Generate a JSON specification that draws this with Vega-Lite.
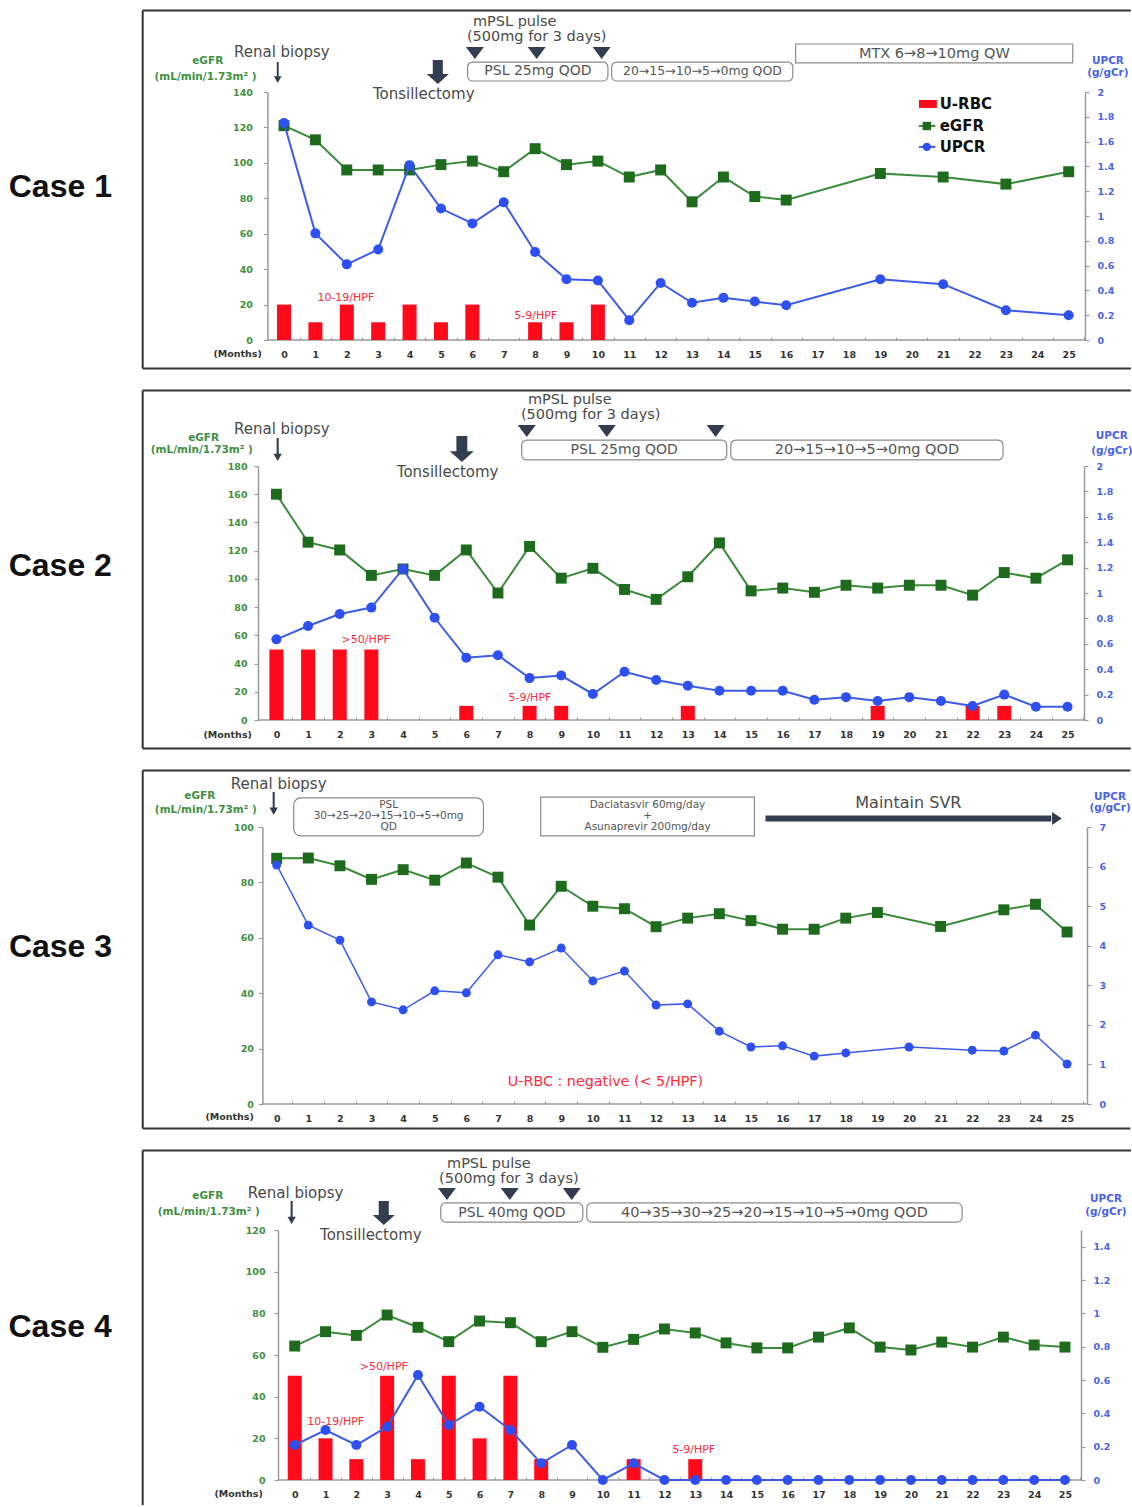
{
"$schema":"https://vega.github.io/schema/vega-lite/v6.json",
"background":"white",
"padding":{"left":8,"top":9,"right":0,"bottom":0},
"spacing":19,
"config":{
 "view":{"stroke":null},
 "axis":{"grid":false,"domainColor":"#9a9a9a","domainWidth":1.5,"tickColor":"#9a9a9a","tickWidth":1.2,"labelFont":"DejaVu Sans","labelFontWeight":"bold","labelFontSize":9.5},
 "style":{
  "ann":{"font":"DejaVu Sans","fontSize":15,"fill":"#4a4a4a","color":"#4a4a4a","align":"center","baseline":"middle"},
  "boxt":{"font":"DejaVu Sans","fontSize":14,"fill":"#555555","color":"#555555","align":"center","baseline":"middle"},
  "boxs":{"font":"DejaVu Sans","fontSize":10.5,"fill":"#555555","color":"#555555","align":"center","baseline":"middle"},
  "axg":{"font":"DejaVu Sans","fontSize":10.5,"fontWeight":"bold","fill":"#3f8f3f","color":"#3f8f3f","align":"center","baseline":"middle"},
  "axb":{"font":"DejaVu Sans","fontSize":10.5,"fontWeight":"bold","fill":"#4a63e8","color":"#4a63e8","align":"center","baseline":"middle"},
  "hpf":{"font":"DejaVu Sans","fontSize":11,"fill":"#ff2a3a","color":"#ff2a3a","align":"center","baseline":"middle"},
  "case":{"font":"Liberation Sans","fontSize":32,"fontWeight":"bold","fill":"#111111","color":"#111111","align":"left","baseline":"middle"},
  "mon":{"font":"DejaVu Sans","fontSize":9.5,"fontWeight":"bold","fill":"#333333","color":"#333333","align":"center","baseline":"middle"},
  "leg":{"font":"DejaVu Sans","fontSize":15,"fontWeight":"bold","fill":"#111111","color":"#111111","align":"left","baseline":"middle"}
 }
},
"vconcat":[
{
 "width":827,"height":248,
 "encoding":{"x":{"field":"m","type":"quantitative","title":null,"scale":{"domain":[-0.829,25.52],"nice":false,"zero":false,"padding":0},"axis":{"values":[0.5,1.5,2.5,3.5,4.5,5.5,6.5,7.5,8.5,9.5,10.5,11.5,12.5,13.5,14.5,15.5,16.5,17.5,18.5,19.5,20.5,21.5,22.5,23.5,24.5,25.5],"labelExpr":"datum.value - 0.5","labelOffset":-15.7,"tickSize":-3,"labelPadding":12,"domain":false,"labelColor":"#333333","labelFlush":false,"labelOverlap":false}}},
 "layer":[
  {
   "encoding":{"y":{"field":"v","type":"quantitative","title":null,"scale":{"domain":[0,140],"nice":false},"axis":{"orient":"left","offset":-9.4,"values":[0,20,40,60,80,100,120,140],"labelColor":"#3f8f3f","tickSize":4,"labelPadding":11}}},
   "layer":[
    {"data":{"values":[{"m":-4.503,"m2":26.98,"v":186,"v2":186},{"m":-4.503,"m2":-4.503,"v":186,"v2":-16.1},{"m":-4.503,"m2":26.98,"v":-16.1,"v2":-16.1}]},"mark":{"type":"rule","color":"#333333","strokeWidth":2},"encoding":{"x2":{"field":"m2"},"y2":{"field":"v2"}}},
    {"data":{"values":[{"m":-0.529,"m2":25.52,"v":0,"v2":0}]},"mark":{"type":"rule","color":"#9a9a9a","strokeWidth":1.5},"encoding":{"x2":{"field":"m2"},"y2":{"field":"v2"}}},
    {"data":{"values":[{"m":0,"v":20},{"m":1,"v":10},{"m":2,"v":20},{"m":3,"v":10},{"m":4,"v":20},{"m":5,"v":10},{"m":6,"v":20},{"m":8,"v":10},{"m":9,"v":10},{"m":10,"v":20}]},"mark":{"type":"bar","color":"#ff0a1a","size":14,"orient":"vertical","opacity":1}},
    {"data":{"values":[{"m":0,"v":121},{"m":1,"v":113},{"m":2,"v":96},{"m":3,"v":96},{"m":4,"v":96},{"m":5,"v":99},{"m":6,"v":101},{"m":7,"v":95},{"m":8,"v":108},{"m":9,"v":99},{"m":10,"v":101},{"m":11,"v":92},{"m":12,"v":96},{"m":13,"v":78},{"m":14,"v":92},{"m":15,"v":81},{"m":16,"v":79},{"m":19,"v":94},{"m":21,"v":92},{"m":23,"v":88},{"m":25,"v":95}]},"mark":{"type":"line","color":"#3a8a3a","strokeWidth":2,"point":{"shape":"square","size":120,"color":"#1e6b1e","filled":true,"opacity":1}}},
    {"data":{"values":[{"m":5.85,"m2":10.32,"v":156.9,"v2":146.2},{"m":10.44,"m2":16.21,"v":156.9,"v2":146.2}]},"mark":{"type":"rect","fill":"white","stroke":"#8a8a8a","strokeWidth":1.2,"cornerRadius":5},"encoding":{"x2":{"field":"m2"},"y2":{"field":"v2"}}},
    {"data":{"values":[{"m":16.3,"m2":25.13,"v":167.1,"v2":156.4}]},"mark":{"type":"rect","fill":"white","stroke":"#8a8a8a","strokeWidth":1.2},"encoding":{"x2":{"field":"m2"},"y2":{"field":"v2"}}},
    {"data":{"values":[{"m":6.08,"v":162},{"m":8.05,"v":162},{"m":10.12,"v":162}]},"mark":{"type":"point","shape":"M-1,-0.67L1,-0.67L0,0.67Z","size":324,"filled":true,"color":"#323e4f","opacity":1}},
    {"data":{"values":[{"m":-0.2,"v":151}]},"mark":{"type":"point","shape":"M-0.09,-1L0.09,-1L0.09,0.36L0.36,0.36L0,1L-0.36,0.36L-0.09,0.36Z","size":441,"filled":true,"color":"#323e4f","opacity":1}},
    {"data":{"values":[{"m":4.9,"v":151.3}]},"mark":{"type":"point","shape":"M-0.42,-1L0.42,-1L0.42,0.17L0.92,0.17L0,1L-0.92,0.17L-0.42,0.17Z","size":576,"filled":true,"color":"#323e4f","opacity":1}},
    {"data":{"values":[{"m":-0.07,"v":162.6,"t":"Renal biopsy"},{"m":4.45,"v":138.9,"t":"Tonsillectomy"}]},"mark":{"type":"text","style":"ann"},"encoding":{"text":{"field":"t"}}},
    {"data":{"values":[{"m":7.35,"v":179.5,"t":"mPSL pulse"},{"m":8.05,"v":171.05,"t":"(500mg for 3 days)"}]},"mark":{"type":"text","style":"ann","fontSize":14.5},"encoding":{"text":{"field":"t"}}},
    {"data":{"values":[{"m":8.09,"v":151.6,"t":"PSL 25mg QOD"}]},"mark":{"type":"text","style":"boxt","fontSize":14},"encoding":{"text":{"field":"t"}}},
    {"data":{"values":[{"m":13.33,"v":151.6,"t":"20→15→10→5→0mg QOD"}]},"mark":{"type":"text","style":"boxt","fontSize":12.5},"encoding":{"text":{"field":"t"}}},
    {"data":{"values":[{"m":20.72,"v":161.7,"t":"MTX 6→8→10mg QW"}]},"mark":{"type":"text","style":"boxt","fontSize":14.5},"encoding":{"text":{"field":"t"}}},
    {"data":{"values":[{"m":-2.43,"v":157.5,"t":"eGFR"},{"m":-2.5,"v":148.5,"t":"(mL/min/1.73m²  )"}]},"mark":{"type":"text","style":"axg"},"encoding":{"text":{"field":"t"}}},
    {"data":{"values":[{"m":26.25,"v":157.5,"t":"UPCR"},{"m":26.25,"v":150.7,"t":"(g/gCr)"}]},"mark":{"type":"text","style":"axb"},"encoding":{"text":{"field":"t"}}},
    {"data":{"values":[{"m":1.97,"v":23.7,"t":"10-19/HPF"},{"m":8.02,"v":13.5,"t":"5-9/HPF"}]},"mark":{"type":"text","style":"hpf"},"encoding":{"text":{"field":"t"}}},
    {"data":{"values":[{"m":-1.48,"v":-7.9,"t":"(Months)"}]},"mark":{"type":"text","style":"mon"},"encoding":{"text":{"field":"t"}}},
    {"data":{"values":[{"m":-8.77,"v":86.4,"t":"Case 1"}]},"mark":{"type":"text","style":"case"},"encoding":{"text":{"field":"t"}}},
    {"data":{"values":[{"m":20.23,"m2":20.8,"v":135.5,"v2":131}]},"mark":{"type":"rect","color":"#ff0a1a"},"encoding":{"x2":{"field":"m2"},"y2":{"field":"v2"}}},
    {"data":{"values":[{"m":20.23,"m2":20.75,"v":120.8,"v2":120.8}]},"mark":{"type":"rule","color":"#3a8a3a","strokeWidth":2},"encoding":{"x2":{"field":"m2"},"y2":{"field":"v2"}}},
    {"data":{"values":[{"m":20.48,"v":120.8}]},"mark":{"type":"point","shape":"square","size":70,"filled":true,"color":"#1e6b1e","opacity":1}},
    {"data":{"values":[{"m":20.23,"m2":20.75,"v":109,"v2":109}]},"mark":{"type":"rule","color":"#3d5ce6","strokeWidth":2},"encoding":{"x2":{"field":"m2"},"y2":{"field":"v2"}}},
    {"data":{"values":[{"m":20.48,"v":109}]},"mark":{"type":"point","shape":"circle","size":70,"filled":true,"color":"#2e4ff2","opacity":1}},
    {"data":{"values":[{"m":20.89,"v":133.2,"t":"U-RBC"},{"m":20.89,"v":120.8,"t":"eGFR"},{"m":20.89,"v":109,"t":"UPCR"}]},"mark":{"type":"text","style":"leg"},"encoding":{"text":{"field":"t"}}}
   ]
  },
  {
   "data":{"values":[{"m":0,"u":1.75},{"m":1,"u":0.86},{"m":2,"u":0.61},{"m":3,"u":0.73},{"m":4,"u":1.41},{"m":5,"u":1.06},{"m":6,"u":0.94},{"m":7,"u":1.11},{"m":8,"u":0.71},{"m":9,"u":0.49},{"m":10,"u":0.48},{"m":11,"u":0.16},{"m":12,"u":0.46},{"m":13,"u":0.3},{"m":14,"u":0.34},{"m":15,"u":0.31},{"m":16,"u":0.28},{"m":19,"u":0.49},{"m":21,"u":0.45},{"m":23,"u":0.24},{"m":25,"u":0.2}]},
   "mark":{"type":"line","color":"#3d5ce6","strokeWidth":2,"point":{"shape":"circle","size":100,"color":"#2e4ff2","filled":true,"opacity":1}},
   "encoding":{"y":{"field":"u","type":"quantitative","title":null,"scale":{"domain":[0,2],"nice":false},"axis":{"orient":"right","values":[0,0.2,0.4,0.6,0.8,1,1.2,1.4,1.6,1.8,2],"format":"~g","labelColor":"#4a63e8","tickSize":4,"labelPadding":8}}}
  }
 ],
 "resolve":{"scale":{"y":"independent"}}
},
{
 "width":826,"height":254,
 "encoding":{"x":{"field":"m","type":"quantitative","title":null,"scale":{"domain":[-0.582,25.52],"nice":false,"zero":false,"padding":0},"axis":{"values":[0.5,1.5,2.5,3.5,4.5,5.5,6.5,7.5,8.5,9.5,10.5,11.5,12.5,13.5,14.5,15.5,16.5,17.5,18.5,19.5,20.5,21.5,22.5,23.5,24.5,25.5],"labelExpr":"datum.value - 0.5","labelOffset":-15.8,"tickSize":-3,"labelPadding":12,"domain":false,"labelColor":"#333333","labelFlush":false,"labelOverlap":false}}},
 "layer":[
  {
   "encoding":{"y":{"field":"v","type":"quantitative","title":null,"scale":{"domain":[0,180],"nice":false},"axis":{"orient":"left","values":[0,20,40,60,80,100,120,140,160,180],"labelColor":"#3f8f3f","tickSize":4,"labelPadding":7}}},
   "layer":[
    {"data":{"values":[{"m":-4.226,"m2":27.0,"v":233.5,"v2":233.5},{"m":-4.226,"m2":-4.226,"v":233.5,"v2":-20.2},{"m":-4.226,"m2":27.0,"v":-20.2,"v2":-20.2}]},"mark":{"type":"rule","color":"#333333","strokeWidth":2},"encoding":{"x2":{"field":"m2"},"y2":{"field":"v2"}}},
    {"data":{"values":[{"m":-0.582,"m2":25.52,"v":0,"v2":0}]},"mark":{"type":"rule","color":"#9a9a9a","strokeWidth":1.5},"encoding":{"x2":{"field":"m2"},"y2":{"field":"v2"}}},
    {"data":{"values":[{"m":0,"v":50},{"m":1,"v":50},{"m":2,"v":50},{"m":3,"v":50},{"m":6,"v":10},{"m":8,"v":10},{"m":9,"v":10},{"m":13,"v":10},{"m":19,"v":10},{"m":22,"v":10},{"m":23,"v":10}]},"mark":{"type":"bar","color":"#ff0a1a","size":14,"orient":"vertical","opacity":1}},
    {"data":{"values":[{"m":0,"v":160},{"m":1,"v":126},{"m":2,"v":120.5},{"m":3,"v":102.5},{"m":4,"v":107},{"m":5,"v":102.5},{"m":6,"v":120.5},{"m":7,"v":90},{"m":8,"v":123},{"m":9,"v":100.5},{"m":10,"v":107.5},{"m":11,"v":92.5},{"m":12,"v":85.5},{"m":13,"v":101.5},{"m":14,"v":125.5},{"m":15,"v":91.5},{"m":16,"v":93.5},{"m":17,"v":90.5},{"m":18,"v":95.5},{"m":19,"v":93.5},{"m":20,"v":95.5},{"m":21,"v":95.5},{"m":22,"v":88.5},{"m":23,"v":104.5},{"m":24,"v":100.5},{"m":25,"v":113.5}]},"mark":{"type":"line","color":"#3a8a3a","strokeWidth":2,"point":{"shape":"square","size":120,"color":"#1e6b1e","filled":true,"opacity":1}}},
    {"data":{"values":[{"m":7.75,"m2":14.23,"v":198.4,"v2":184.3},{"m":14.36,"m2":22.96,"v":198.4,"v2":184.3}]},"mark":{"type":"rect","fill":"white","stroke":"#8a8a8a","strokeWidth":1.2,"cornerRadius":5},"encoding":{"x2":{"field":"m2"},"y2":{"field":"v2"}}},
    {"data":{"values":[{"m":7.91,"v":204.8},{"m":10.44,"v":204.8},{"m":13.88,"v":204.8}]},"mark":{"type":"point","shape":"M-1,-0.67L1,-0.67L0,0.67Z","size":324,"filled":true,"color":"#323e4f","opacity":1}},
    {"data":{"values":[{"m":0.04,"v":191.7}]},"mark":{"type":"point","shape":"M-0.09,-1L0.09,-1L0.09,0.36L0.36,0.36L0,1L-0.36,0.36L-0.09,0.36Z","size":529,"filled":true,"color":"#323e4f","opacity":1}},
    {"data":{"values":[{"m":5.86,"v":192}]},"mark":{"type":"point","shape":"M-0.42,-1L0.42,-1L0.42,0.17L0.92,0.17L0,1L-0.92,0.17L-0.42,0.17Z","size":676,"filled":true,"color":"#323e4f","opacity":1}},
    {"data":{"values":[{"m":0.17,"v":206.2,"t":"Renal biopsy"},{"m":5.41,"v":175.7,"t":"Tonsillectomy"}]},"mark":{"type":"text","style":"ann"},"encoding":{"text":{"field":"t"}}},
    {"data":{"values":[{"m":9.27,"v":226.8,"t":"mPSL pulse"},{"m":9.93,"v":216.1,"t":"(500mg for 3 days)"}]},"mark":{"type":"text","style":"ann","fontSize":14.5},"encoding":{"text":{"field":"t"}}},
    {"data":{"values":[{"m":10.99,"v":191.3,"t":"PSL 25mg QOD"}]},"mark":{"type":"text","style":"boxt","fontSize":14},"encoding":{"text":{"field":"t"}}},
    {"data":{"values":[{"m":18.66,"v":191.3,"t":"20→15→10→5→0mg QOD"}]},"mark":{"type":"text","style":"boxt","fontSize":14.5},"encoding":{"text":{"field":"t"}}},
    {"data":{"values":[{"m":-2.3,"v":199.8,"t":"eGFR"},{"m":-2.36,"v":191.3,"t":"(mL/min/1.73m² )"}]},"mark":{"type":"text","style":"axg"},"encoding":{"text":{"field":"t"}}},
    {"data":{"values":[{"m":26.4,"v":201.3,"t":"UPCR"},{"m":26.4,"v":190.6,"t":"(g/gCr)"}]},"mark":{"type":"text","style":"axb"},"encoding":{"text":{"field":"t"}}},
    {"data":{"values":[{"m":2.82,"v":56.7,"t":">50/HPF"},{"m":8.01,"v":15.6,"t":"5-9/HPF"}]},"mark":{"type":"text","style":"hpf"},"encoding":{"text":{"field":"t"}}},
    {"data":{"values":[{"m":-1.54,"v":-10.6,"t":"(Months)"}]},"mark":{"type":"text","style":"mon"},"encoding":{"text":{"field":"t"}}},
    {"data":{"values":[{"m":-8.46,"v":109.1,"t":"Case 2"}]},"mark":{"type":"text","style":"case"},"encoding":{"text":{"field":"t"}}}
   ]
  },
  {
   "data":{"values":[{"m":0,"u":0.635},{"m":1,"u":0.74},{"m":2,"u":0.835},{"m":3,"u":0.885},{"m":4,"u":1.19},{"m":5,"u":0.805},{"m":6,"u":0.49},{"m":7,"u":0.51},{"m":8,"u":0.33},{"m":9,"u":0.35},{"m":10,"u":0.205},{"m":11,"u":0.38},{"m":12,"u":0.315},{"m":13,"u":0.27},{"m":14,"u":0.23},{"m":15,"u":0.23},{"m":16,"u":0.23},{"m":17,"u":0.16},{"m":18,"u":0.18},{"m":19,"u":0.15},{"m":20,"u":0.18},{"m":21,"u":0.15},{"m":22,"u":0.11},{"m":23,"u":0.2},{"m":24,"u":0.105},{"m":25,"u":0.105}]},
   "mark":{"type":"line","color":"#3d5ce6","strokeWidth":2,"point":{"shape":"circle","size":100,"color":"#2e4ff2","filled":true,"opacity":1}},
   "encoding":{"y":{"field":"u","type":"quantitative","title":null,"scale":{"domain":[0,2],"nice":false},"axis":{"orient":"right","values":[0,0.2,0.4,0.6,0.8,1,1.2,1.4,1.6,1.8,2],"format":"~g","labelColor":"#4a63e8","tickSize":4,"labelPadding":8}}}
  }
 ],
 "resolve":{"scale":{"y":"independent"}}
},
{
 "width":829,"height":277,
 "encoding":{"x":{"field":"m","type":"quantitative","title":null,"scale":{"domain":[-0.591,25.63],"nice":false,"zero":false,"padding":0},"axis":{"values":[0.5,1.5,2.5,3.5,4.5,5.5,6.5,7.5,8.5,9.5,10.5,11.5,12.5,13.5,14.5,15.5,16.5,17.5,18.5,19.5,20.5,21.5,22.5,23.5,24.5,25.5],"labelExpr":"datum.value - 0.5","labelOffset":-15.8,"tickSize":-3,"labelPadding":12,"domain":false,"labelColor":"#333333","labelFlush":false,"labelOverlap":false}}},
 "layer":[
  {
   "encoding":{"y":{"field":"v","type":"quantitative","title":null,"scale":{"domain":[0,100],"nice":false},"axis":{"orient":"left","offset":-4.4,"values":[0,20,40,60,80,100],"labelColor":"#3f8f3f","tickSize":4,"labelPadding":5}}},
   "layer":[
    {"data":{"values":[{"m":-4.237,"m2":27.0,"v":120.4,"v2":120.4},{"m":-4.237,"m2":-4.237,"v":120.4,"v2":-8.84},{"m":-4.237,"m2":27.0,"v":-8.84,"v2":-8.84}]},"mark":{"type":"rule","color":"#333333","strokeWidth":2},"encoding":{"x2":{"field":"m2"},"y2":{"field":"v2"}}},
    {"data":{"values":[{"m":-0.452,"m2":25.63,"v":0,"v2":0}]},"mark":{"type":"rule","color":"#9a9a9a","strokeWidth":1.5},"encoding":{"x2":{"field":"m2"},"y2":{"field":"v2"}}},
    {"data":{"values":[{"m":0,"v":88.7},{"m":1,"v":88.8},{"m":2,"v":86},{"m":3,"v":81.1},{"m":4,"v":84.6},{"m":5,"v":80.8},{"m":6,"v":87},{"m":7,"v":81.9},{"m":8,"v":64.6},{"m":9,"v":78.6},{"m":10,"v":71.4},{"m":11,"v":70.5},{"m":12,"v":64},{"m":13,"v":67.1},{"m":14,"v":68.7},{"m":15,"v":66.2},{"m":16,"v":63.1},{"m":17,"v":63.1},{"m":18,"v":67.1},{"m":19,"v":69.1},{"m":21,"v":64.1},{"m":23,"v":70.1},{"m":24,"v":72.1},{"m":25,"v":62.1}]},"mark":{"type":"line","color":"#3a8a3a","strokeWidth":2,"point":{"shape":"square","size":120,"color":"#1e6b1e","filled":true,"opacity":1}}},
    {"data":{"values":[{"m":0.54,"m2":6.54,"v":110.5,"v2":96.8}]},"mark":{"type":"rect","fill":"white","stroke":"#8a8a8a","strokeWidth":1.2,"cornerRadius":7},"encoding":{"x2":{"field":"m2"},"y2":{"field":"v2"}}},
    {"data":{"values":[{"m":8.35,"m2":15.11,"v":110.8,"v2":96.8}]},"mark":{"type":"rect","fill":"white","stroke":"#8a8a8a","strokeWidth":1.2},"encoding":{"x2":{"field":"m2"},"y2":{"field":"v2"}}},
    {"data":{"values":[{"m":-0.095,"v":108.5}]},"mark":{"type":"point","shape":"M-0.09,-1L0.09,-1L0.09,0.36L0.36,0.36L0,1L-0.36,0.36L-0.09,0.36Z","size":529,"filled":true,"color":"#323e4f","opacity":1}},
    {"data":{"values":[{"m":15.46,"m2":24.5,"v":103.1,"v2":103.1}]},"mark":{"type":"rule","color":"#323e4f","strokeWidth":6},"encoding":{"x2":{"field":"m2"},"y2":{"field":"v2"}}},
    {"data":{"values":[{"m":24.68,"v":103.1}]},"mark":{"type":"point","shape":"M-0.75,-1L0.75,0L-0.75,1Z","size":169,"filled":true,"color":"#323e4f","opacity":1}},
    {"data":{"values":[{"m":0.063,"v":115.5,"t":"Renal biopsy"}]},"mark":{"type":"text","style":"ann"},"encoding":{"text":{"field":"t"}}},
    {"data":{"values":[{"m":19.98,"v":108.7,"t":"Maintain SVR"}]},"mark":{"type":"text","style":"ann","fontSize":16},"encoding":{"text":{"field":"t"}}},
    {"data":{"values":[{"m":3.54,"v":107.9,"t":"PSL"},{"m":3.54,"v":104,"t":"30→25→20→15→10→5→0mg"},{"m":3.54,"v":100,"t":"QD"},{"m":11.73,"v":107.9,"t":"Daclatasvir 60mg/day"},{"m":11.73,"v":104,"t":"+"},{"m":11.73,"v":100,"t":"Asunaprevir 200mg/day"}]},"mark":{"type":"text","style":"boxs"},"encoding":{"text":{"field":"t"}}},
    {"data":{"values":[{"m":-2.43,"v":111.2,"t":"eGFR"},{"m":-2.24,"v":106.1,"t":"(mL/min/1.73m²  )"}]},"mark":{"type":"text","style":"axg"},"encoding":{"text":{"field":"t"}}},
    {"data":{"values":[{"m":26.36,"v":110.8,"t":"UPCR"},{"m":26.36,"v":106.9,"t":"(g/gCr)"}]},"mark":{"type":"text","style":"axb"},"encoding":{"text":{"field":"t"}}},
    {"data":{"values":[{"m":10.4,"v":7.9,"t":"U-RBC : negative (< 5/HPF)"}]},"mark":{"type":"text","style":"hpf","fontSize":14.3},"encoding":{"text":{"field":"t"}}},
    {"data":{"values":[{"m":-1.49,"v":-4.7,"t":"(Months)"}]},"mark":{"type":"text","style":"mon"},"encoding":{"text":{"field":"t"}}},
    {"data":{"values":[{"m":-8.47,"v":56.7,"t":"Case 3"}]},"mark":{"type":"text","style":"case"},"encoding":{"text":{"field":"t"}}}
   ]
  },
  {
   "data":{"values":[{"m":0,"u":6.04},{"m":1,"u":4.52},{"m":2,"u":4.14},{"m":3,"u":2.58},{"m":4,"u":2.38},{"m":5,"u":2.86},{"m":6,"u":2.81},{"m":7,"u":3.77},{"m":8,"u":3.59},{"m":9,"u":3.94},{"m":10,"u":3.11},{"m":11,"u":3.36},{"m":12,"u":2.5},{"m":13,"u":2.53},{"m":14,"u":1.84},{"m":15,"u":1.44},{"m":16,"u":1.47},{"m":17,"u":1.21},{"m":18,"u":1.29},{"m":20,"u":1.44},{"m":22,"u":1.36},{"m":23,"u":1.34},{"m":24,"u":1.74},{"m":25,"u":1.01}]},
   "mark":{"type":"line","color":"#3d5ce6","strokeWidth":1.5,"point":{"shape":"circle","size":80,"color":"#2e4ff2","filled":true,"opacity":1}},
   "encoding":{"y":{"field":"u","type":"quantitative","title":null,"scale":{"domain":[0,7],"nice":false},"axis":{"orient":"right","values":[0,1,2,3,4,5,6,7],"format":"~g","labelColor":"#4a63e8","tickSize":4,"labelPadding":8}}}
  }
 ],
 "resolve":{"scale":{"y":"independent"}}
},
{
 "width":823,"height":250,
 "encoding":{"x":{"field":"m","type":"quantitative","title":null,"scale":{"domain":[-1.192,25.52],"nice":false,"zero":false,"padding":0},"axis":{"values":[0.5,1.5,2.5,3.5,4.5,5.5,6.5,7.5,8.5,9.5,10.5,11.5,12.5,13.5,14.5,15.5,16.5,17.5,18.5,19.5,20.5,21.5,22.5,23.5,24.5,25.5],"labelExpr":"datum.value - 0.5","labelOffset":-15.4,"tickSize":-3,"labelPadding":12,"domain":false,"labelColor":"#333333","labelFlush":false,"labelOverlap":false}}},
 "layer":[
  {
   "encoding":{"y":{"field":"v","type":"quantitative","title":null,"scale":{"domain":[0,120],"nice":false},"axis":{"orient":"left","offset":-20,"values":[0,20,40,60,80,100,120],"labelColor":"#3f8f3f","tickSize":4,"labelPadding":9}}},
   "layer":[
    {"data":{"values":[{"m":-4.935,"m2":27.14,"v":158.2,"v2":158.2},{"m":-4.935,"m2":-4.935,"v":158.2,"v2":-12}]},"mark":{"type":"rule","color":"#333333","strokeWidth":2},"encoding":{"x2":{"field":"m2"},"y2":{"field":"v2"}}},
    {"data":{"values":[{"m":-0.542,"m2":25.52,"v":0,"v2":0}]},"mark":{"type":"rule","color":"#9a9a9a","strokeWidth":1.5},"encoding":{"x2":{"field":"m2"},"y2":{"field":"v2"}}},
    {"data":{"values":[{"m":0,"v":50},{"m":1,"v":20},{"m":2,"v":10},{"m":3,"v":50},{"m":4,"v":10},{"m":5,"v":50},{"m":6,"v":20},{"m":7,"v":50},{"m":8,"v":10},{"m":11,"v":10},{"m":13,"v":10}]},"mark":{"type":"bar","color":"#ff0a1a","size":14,"orient":"vertical","opacity":1}},
    {"data":{"values":[{"m":0,"v":64.3},{"m":1,"v":71.2},{"m":2,"v":69.4},{"m":3,"v":79.2},{"m":4,"v":73.3},{"m":5,"v":66.4},{"m":6,"v":76.3},{"m":7,"v":75.5},{"m":8,"v":66.4},{"m":9,"v":71.2},{"m":10,"v":63.7},{"m":11,"v":67.5},{"m":12,"v":72.5},{"m":13,"v":70.6},{"m":14,"v":65.8},{"m":15,"v":63.4},{"m":16,"v":63.4},{"m":17,"v":68.6},{"m":18,"v":73},{"m":19,"v":63.8},{"m":20,"v":62.4},{"m":21,"v":66.2},{"m":22,"v":63.8},{"m":23,"v":68.6},{"m":24,"v":64.8},{"m":25,"v":63.8}]},"mark":{"type":"line","color":"#3a8a3a","strokeWidth":2,"point":{"shape":"square","size":120,"color":"#1e6b1e","filled":true,"opacity":1}}},
    {"data":{"values":[{"m":4.74,"m2":9.35,"v":133,"v2":123.8},{"m":9.48,"m2":21.66,"v":133,"v2":123.8}]},"mark":{"type":"rect","fill":"white","stroke":"#8a8a8a","strokeWidth":1.2,"cornerRadius":5},"encoding":{"x2":{"field":"m2"},"y2":{"field":"v2"}}},
    {"data":{"values":[{"m":4.94,"v":137.3},{"m":6.98,"v":137.3},{"m":8.99,"v":137.3}]},"mark":{"type":"point","shape":"M-1,-0.67L1,-0.67L0,0.67Z","size":324,"filled":true,"color":"#323e4f","opacity":1}},
    {"data":{"values":[{"m":-0.1,"v":128.4}]},"mark":{"type":"point","shape":"M-0.09,-1L0.09,-1L0.09,0.36L0.36,0.36L0,1L-0.36,0.36L-0.09,0.36Z","size":529,"filled":true,"color":"#323e4f","opacity":1}},
    {"data":{"values":[{"m":2.89,"v":128.2}]},"mark":{"type":"point","shape":"M-0.42,-1L0.42,-1L0.42,0.17L0.92,0.17L0,1L-0.92,0.17L-0.42,0.17Z","size":576,"filled":true,"color":"#323e4f","opacity":1}},
    {"data":{"values":[{"m":0.03,"v":137.8,"t":"Renal biopsy"},{"m":2.47,"v":117.6,"t":"Tonsillectomy"}]},"mark":{"type":"text","style":"ann"},"encoding":{"text":{"field":"t"}}},
    {"data":{"values":[{"m":6.3,"v":151.7,"t":"mPSL pulse"},{"m":6.95,"v":144.5,"t":"(500mg for 3 days)"}]},"mark":{"type":"text","style":"ann","fontSize":14.5},"encoding":{"text":{"field":"t"}}},
    {"data":{"values":[{"m":7.05,"v":128.4,"t":"PSL 40mg QOD"}]},"mark":{"type":"text","style":"boxt","fontSize":14},"encoding":{"text":{"field":"t"}}},
    {"data":{"values":[{"m":15.57,"v":128.4,"t":"40→35→30→25→20→15→10→5→0mg QOD"}]},"mark":{"type":"text","style":"boxt","fontSize":14.5},"encoding":{"text":{"field":"t"}}},
    {"data":{"values":[{"m":-2.82,"v":136.3,"t":"eGFR"},{"m":-2.79,"v":128.6,"t":"(mL/min/1.73m²  )"}]},"mark":{"type":"text","style":"axg"},"encoding":{"text":{"field":"t"}}},
    {"data":{"values":[{"m":26.33,"v":134.9,"t":"UPCR"},{"m":26.33,"v":128.6,"t":"(g/gCr)"}]},"mark":{"type":"text","style":"axb"},"encoding":{"text":{"field":"t"}}},
    {"data":{"values":[{"m":2.89,"v":54.2,"t":">50/HPF"},{"m":1.33,"v":27.8,"t":"10-19/HPF"},{"m":12.95,"v":14.4,"t":"5-9/HPF"}]},"mark":{"type":"text","style":"hpf"},"encoding":{"text":{"field":"t"}}},
    {"data":{"values":[{"m":-1.82,"v":-6.7,"t":"(Months)"}]},"mark":{"type":"text","style":"mon"},"encoding":{"text":{"field":"t"}}},
    {"data":{"values":[{"m":-9.29,"v":73.4,"t":"Case 4"}]},"mark":{"type":"text","style":"case"},"encoding":{"text":{"field":"t"}}}
   ]
  },
  {
   "data":{"values":[{"m":0,"u":0.21},{"m":1,"u":0.3},{"m":2,"u":0.21},{"m":3,"u":0.32},{"m":4,"u":0.63},{"m":5,"u":0.33},{"m":6,"u":0.44},{"m":7,"u":0.3},{"m":8,"u":0.1},{"m":9,"u":0.21},{"m":10,"u":0},{"m":11,"u":0.1},{"m":12,"u":0},{"m":13,"u":0},{"m":14,"u":0},{"m":15,"u":0},{"m":16,"u":0},{"m":17,"u":0},{"m":18,"u":0},{"m":19,"u":0},{"m":20,"u":0},{"m":21,"u":0},{"m":22,"u":0},{"m":23,"u":0},{"m":24,"u":0},{"m":25,"u":0}]},
   "mark":{"type":"line","color":"#3d5ce6","strokeWidth":2,"point":{"shape":"circle","size":100,"color":"#2e4ff2","filled":true,"opacity":1}},
   "encoding":{"y":{"field":"u","type":"quantitative","title":null,"scale":{"domain":[0,1.5],"nice":false},"axis":{"orient":"right","values":[0,0.2,0.4,0.6,0.8,1,1.2,1.4],"format":"~g","labelColor":"#4a63e8","tickSize":4,"labelPadding":8}}}
  }
 ],
 "resolve":{"scale":{"y":"independent"}}
}
]
}
